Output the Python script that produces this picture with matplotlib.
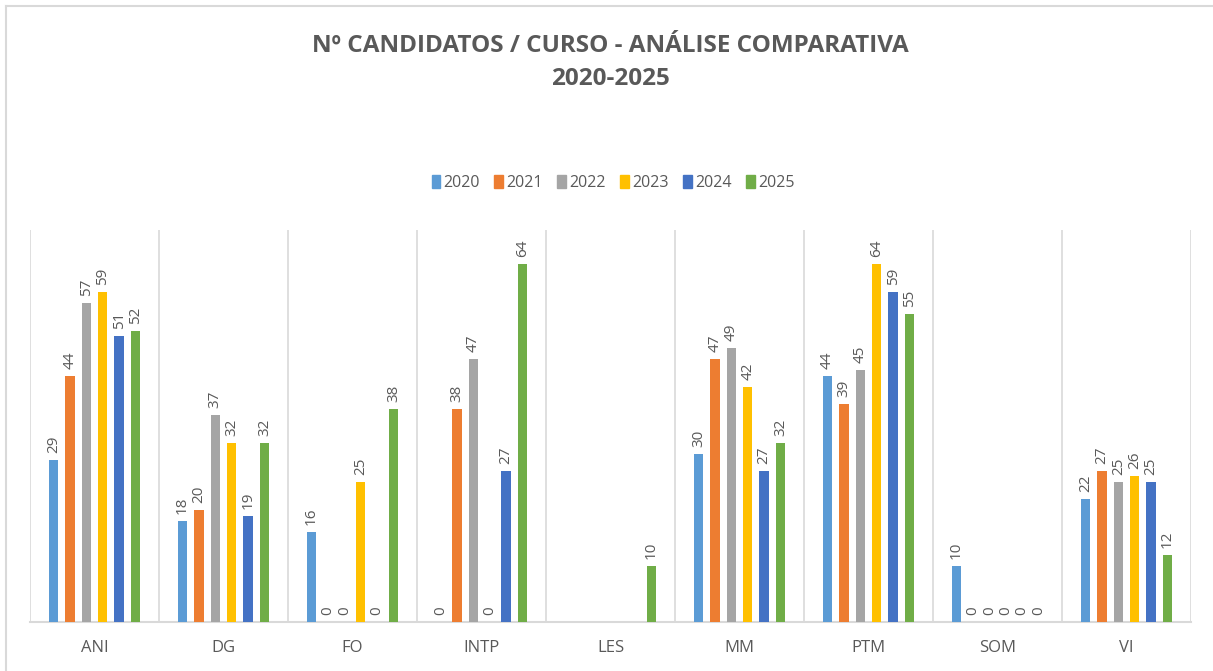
import numpy as np
import matplotlib
matplotlib.use("Agg")
import matplotlib.pyplot as plt
from matplotlib.patches import Rectangle
from matplotlib.lines import Line2D

categories = ["ANI", "DG", "FO", "INTP", "LES", "MM", "PTM", "SOM", "VI"]
years = ["2020", "2021", "2022", "2023", "2024", "2025"]
nan = np.nan
v2020 = [29, 18, 16, 0, nan, 30, 44, 10, 22]
v2021 = [44, 20, 0, 38, nan, 47, 39, 0, 27]
v2022 = [57, 37, 0, 47, nan, 49, 45, 0, 25]
v2023 = [59, 32, 25, 0, nan, 42, 64, 0, 26]
v2024 = [51, 19, 0, 27, nan, 27, 59, 0, 25]
v2025 = [52, 32, 38, 64, 10, 32, 55, 0, 12]
series = [v2020, v2021, v2022, v2023, v2024, v2025]
colors = ["#5B9BD5", "#ED7D31", "#A5A5A5", "#FFC000", "#4472C4", "#70AD47"]

W, H = 1213, 671
fig = plt.figure(figsize=(W / 100, H / 100), dpi=100)
fig.patch.set_facecolor("white")

# outer chart frame
fig.add_artist(Line2D([6 / W, 1.0], [1 - 6 / H, 1 - 6 / H], color="#d9d9d9", lw=1.5, transform=fig.transFigure))
fig.add_artist(Line2D([6 / W, 6 / W], [0, 1 - 6 / H], color="#d9d9d9", lw=1.5, transform=fig.transFigure))

ax = fig.add_axes([30 / W, 49 / H, (1191 - 30) / W, (622 - 230) / H])
n = len(categories)
x = np.arange(n)
step = 0.127
bw = 0.072
gray = "#595959"
for i, (vals, c) in enumerate(zip(series, colors)):
    off = (i - 2.5) * step
    arr = np.array(vals, dtype=float)
    ax.bar(x + off, np.nan_to_num(arr), width=bw, color=c, zorder=3)
    for xi, v in zip(x, arr):
        if np.isnan(v):
            continue
        ax.annotate(f"{int(v)}", (xi + off, v), xytext=(0, 5), textcoords="offset points",
                    rotation=90, ha="center", va="bottom", fontsize=11, color=gray,
                    family="Open Sans")

ax.set_xlim(-0.5, n - 0.5)
ax.set_ylim(0, 70)
ax.set_yticks([])
ax.set_xticks(x)
ax.set_xticklabels(categories, fontsize=12, color=gray, family="Open Sans")
ax.tick_params(axis="x", length=0, pad=13)
for b in np.arange(-0.5, n, 1.0):
    ax.axvline(b, color="#d9d9d9", lw=1.2, zorder=1)
for s in ["top", "right", "left"]:
    ax.spines[s].set_visible(False)
ax.spines["bottom"].set_color("#d9d9d9")
ax.spines["bottom"].set_linewidth(1.5)

fig.text(610 / W, 1 - 46 / H, "Nº CANDIDATOS / CURSO - ANÁLISE COMPARATIVA", ha="center", va="center",
         fontsize=17.5, fontweight="bold", color=gray, family="Open Sans")
fig.text(610 / W, 1 - 79 / H, "2020-2025", ha="center", va="center",
         fontsize=17.5, fontweight="bold", color=gray, family="Open Sans")

handles = [Rectangle((0, 0), 1, 1, color=c) for c in colors]
fig.legend(handles, years, loc="center", bbox_to_anchor=(613 / W, 1 - 183 / H), ncol=6, frameon=False,
           handlelength=0.55, handleheight=0.9, handletextpad=0.2, columnspacing=0.9,
           prop={"family": "Open Sans", "size": 11.5}, labelcolor=gray)

fig.savefig("out.png", dpi=100, facecolor="white")
